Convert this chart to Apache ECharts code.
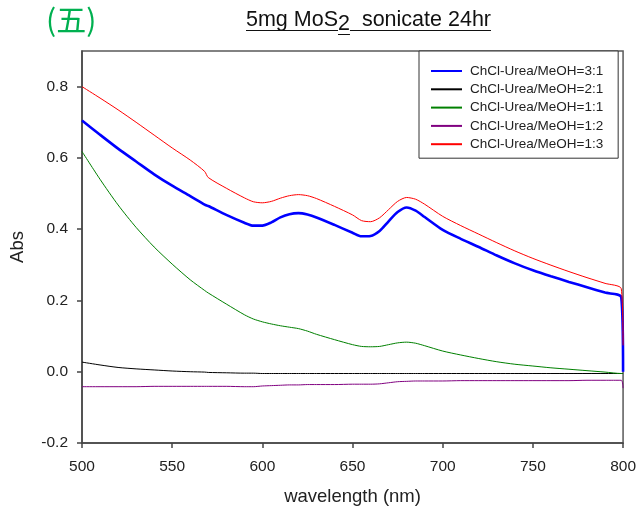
<!DOCTYPE html>
<html>
<head>
<meta charset="utf-8">
<script src="https://cdn.jsdelivr.net/npm/echarts@6/dist/echarts.min.js"></script>
<style>
  html, body { margin: 0; padding: 0; background: #fff; }
  #chart { width: 639px; height: 511px; }
</style>
</head>
<body>
<div id="chart"></div>
<script>
// Wavelength grid (nm) shared by every spectrum
const wavelengths = [500,510,520,530,540,550,560,568,570,580,590,595,600,605,610,615,620,625,630,640,650,655,660,665,670,675,680,685,690,700,710,720,730,740,750,760,770,780,790,799,800];

// Absorbance of each solvent ratio
const abs31 = [0.705,0.665,0.626,0.590,0.554,0.522,0.493,0.469,0.465,0.440,0.418,0.410,0.410,0.419,0.433,0.442,0.445,0.441,0.433,0.412,0.390,0.380,0.381,0.395,0.422,0.448,0.461,0.452,0.434,0.398,0.373,0.350,0.326,0.304,0.285,0.268,0.252,0.237,0.222,0.209,0.000];
const abs21 = [0.027,0.019,0.012,0.008,0.005,0.002,0.000,-0.001,-0.002,-0.003,-0.004,-0.004,-0.005,-0.005,-0.005,-0.005,-0.005,-0.005,-0.005,-0.005,-0.005,-0.005,-0.005,-0.005,-0.005,-0.005,-0.005,-0.005,-0.005,-0.005,-0.005,-0.005,-0.005,-0.005,-0.005,-0.005,-0.005,-0.005,-0.005,-0.005,-0.005];
const abs11 = [0.618,0.540,0.468,0.405,0.350,0.302,0.258,0.228,0.221,0.190,0.160,0.148,0.140,0.134,0.129,0.125,0.121,0.114,0.105,0.090,0.076,0.071,0.070,0.071,0.076,0.081,0.083,0.080,0.073,0.058,0.047,0.037,0.028,0.021,0.016,0.011,0.007,0.003,-0.001,-0.005,-0.005];
const abs12 = [-0.042,-0.042,-0.042,-0.042,-0.041,-0.041,-0.041,-0.041,-0.041,-0.041,-0.042,-0.042,-0.040,-0.039,-0.038,-0.037,-0.037,-0.036,-0.036,-0.036,-0.035,-0.035,-0.035,-0.034,-0.031,-0.028,-0.027,-0.026,-0.026,-0.026,-0.025,-0.025,-0.025,-0.025,-0.025,-0.025,-0.025,-0.024,-0.024,-0.024,-0.046];
const abs13 = [0.800,0.768,0.735,0.700,0.664,0.628,0.594,0.562,0.545,0.515,0.488,0.477,0.474,0.478,0.487,0.494,0.497,0.494,0.486,0.464,0.440,0.424,0.421,0.432,0.455,0.478,0.489,0.484,0.470,0.436,0.410,0.386,0.362,0.339,0.318,0.299,0.281,0.264,0.248,0.233,0.074];

const seriesNames = ['ChCl-Urea/MeOH=3:1','ChCl-Urea/MeOH=2:1','ChCl-Urea/MeOH=1:1','ChCl-Urea/MeOH=1:2','ChCl-Urea/MeOH=1:3'];
const seriesValues = [abs31, abs21, abs11, abs12, abs13];
const seriesColors = ['#0000ff','#000000','#008000','#800080','#ff0000'];
const seriesWidths = [2.6, 1, 1, 1, 1];

const xTicks = [500,550,600,650,700,750,800];
const yTicks = [-0.2,0.0,0.2,0.4,0.6,0.8];

const titleMain = '5mg MoS';
const titleSub = '2';
const titleRest = '  sonicate 24hr';
const panelMark = '(五)';

const FONT = '"Liberation Sans", Arial, sans-serif';
const chart = echarts.init(document.getElementById('chart'), null, { renderer: 'canvas' });

// measure title pieces so the subscript and underline follow the text
const ctx = document.createElement('canvas').getContext('2d');
const titleSize = 21.5;
ctx.font = titleSize + 'px ' + FONT;
const wMain = ctx.measureText(titleMain).width;
const wSub = ctx.measureText(titleSub).width;
const wRest = ctx.measureText(titleRest).width;
const tx = 246, ty = 20, subDrop = 4, ulY = 30.5;

const series = seriesNames.map((name, i) => ({
  name: name,
  type: 'line',
  data: wavelengths.map((w, j) => [w, seriesValues[i][j]]),
  symbol: 'none',
  showSymbol: false,
  smooth: 0.25,
  lineStyle: { color: seriesColors[i], width: seriesWidths[i] },
  itemStyle: { color: seriesColors[i] },
  emphasis: { disabled: true },
  animation: false
}));

chart.setOption({
  animation: false,
  backgroundColor: '#ffffff',
  textStyle: { fontFamily: FONT },
  grid: {
    left: 82, right: 12, top: 51, bottom: 66,
    show: true, borderColor: '#5a5a5a', borderWidth: 1.5, backgroundColor: 'transparent'
  },
  legend: {
    orient: 'vertical',
    left: 419, top: 51,
    padding: [13, 15, 7, 11],
    itemWidth: 31, itemHeight: 14, itemGap: 4.3,
    borderColor: '#333', borderWidth: 1, backgroundColor: '#fff',
    itemStyle: { opacity: 0, borderWidth: 0 },
    textStyle: { fontSize: 13.5, color: '#222', fontFamily: FONT, padding: [0, 0, 0, 3] },
    data: seriesNames
  },
  xAxis: {
    type: 'value', min: 500, max: 800, interval: 50,
    name: 'wavelength (nm)', nameLocation: 'middle', nameGap: 44,
    nameTextStyle: { fontSize: 18.5, color: '#222', fontFamily: FONT },
    axisLine: { onZero: false, lineStyle: { color: '#444', width: 1.5 } },
    axisTick: { inside: false, length: 5, lineStyle: { color: '#444', width: 1.5 }, customValues: xTicks },
    axisLabel: { fontSize: 15.5, color: '#222', margin: 16, customValues: xTicks },
    splitLine: { show: false }
  },
  yAxis: {
    type: 'value', min: -0.2, max: 0.9, interval: 0.2,
    name: 'Abs', nameLocation: 'middle', nameGap: 55,
    nameTextStyle: { fontSize: 18.5, color: '#222', fontFamily: FONT },
    axisLine: { onZero: false, lineStyle: { color: '#444', width: 1.5 } },
    axisTick: { inside: false, length: 5, lineStyle: { color: '#444', width: 1.5 }, customValues: yTicks },
    axisLabel: { fontSize: 15.5, color: '#222', margin: 14, customValues: yTicks,
      formatter: v => v.toFixed(1) },
    splitLine: { show: false }
  },
  graphic: [
    { type: 'text', left: 46, top: 5,
      style: { text: panelMark, fill: '#00b050', font: '30px "Noto Sans CJK SC", sans-serif' } },
    { type: 'text', x: tx, y: ty,
      style: { text: titleMain, fill: '#111', font: titleSize + 'px ' + FONT, verticalAlign: 'middle' } },
    { type: 'text', x: tx + wMain, y: ty + subDrop,
      style: { text: titleSub, fill: '#111', font: titleSize + 'px ' + FONT, verticalAlign: 'middle' } },
    { type: 'text', x: tx + wMain + wSub, y: ty,
      style: { text: titleRest, fill: '#111', font: titleSize + 'px ' + FONT, verticalAlign: 'middle' } },
    { type: 'line', shape: { x1: tx, y1: ulY, x2: tx + wMain, y2: ulY },
      style: { stroke: '#111', lineWidth: 1 } },
    { type: 'line', shape: { x1: tx + wMain, y1: ulY + subDrop, x2: tx + wMain + wSub, y2: ulY + subDrop },
      style: { stroke: '#111', lineWidth: 1 } },
    { type: 'line', shape: { x1: tx + wMain + wSub, y1: ulY, x2: tx + wMain + wSub + wRest, y2: ulY },
      style: { stroke: '#111', lineWidth: 1 } }
  ],
  series: series
});
</script>
</body>
</html>
